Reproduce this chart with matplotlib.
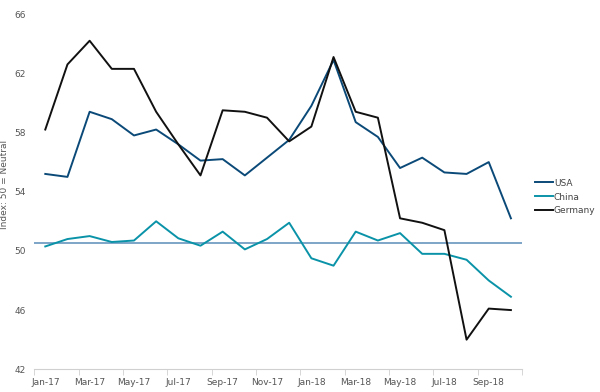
import matplotlib
matplotlib.use("Agg")
import matplotlib.pyplot as plt
import numpy as np

months = ["Jan-17", "Feb-17", "Mar-17", "Apr-17", "May-17", "Jun-17", "Jul-17",
          "Aug-17", "Sep-17", "Oct-17", "Nov-17", "Dec-17", "Jan-18", "Feb-18",
          "Mar-18", "Apr-18", "May-18", "Jun-18", "Jul-18", "Aug-18", "Sep-18",
          "Oct-18"]
usa = [55.2, 55.0, 59.4, 58.9, 57.8, 58.2, 57.2, 56.1, 56.2, 55.1, 56.3, 57.5,
       59.8, 62.9, 58.7, 57.7, 55.6, 56.3, 55.3, 55.2, 56.0, 52.2]
china = [50.3, 50.8, 51.0, 50.6, 50.7, 52.0, 50.85, 50.35, 51.3, 50.1, 50.8, 51.9,
         49.5, 49.0, 51.3, 50.7, 51.2, 49.8, 49.8, 49.4, 48.0, 46.9]
germany = [58.2, 62.6, 64.2, 62.3, 62.3, 59.4, 57.2, 55.1, 59.5, 59.4, 59.0, 57.4,
           58.4, 63.1, 59.4, 59.0, 52.2, 51.9, 51.4, 44.0, 46.1, 46.0]
neutral = 50.5
y_ticks = [42, 46, 50, 54, 58, 62, 66]

fig = plt.figure(figsize=(6, 3.92), dpi=100)
ax = fig.add_axes([0.057, 0.058, 0.813, 0.906])

x = np.arange(len(months))
ax.axhline(neutral, color="#5b8db8", lw=1.1, zorder=1)
ax.plot(x, usa, color="#0b4a78", lw=1.4, label="USA")
ax.plot(x, china, color="#0a93a8", lw=1.4, label="China")
ax.plot(x, germany, color="#111111", lw=1.4, label="Germany")

ax.set_xlim(-0.5, len(months) - 0.5)
ax.set_ylim(42, 66)
ax.set_yticks(y_ticks)
ax.set_xticks(x[::2])
ax.set_xticklabels(months[::2])
ax.set_xticks(np.arange(-0.5, len(months), 2), minor=True)
ax.tick_params(axis="x", which="major", length=0, labelsize=6.5,
               labelcolor="#555555", pad=6)
ax.tick_params(axis="x", which="minor", length=4, color="#d0d0d0")
ax.tick_params(axis="y", length=0, labelsize=6.5, labelcolor="#555555", pad=6)

for side in ["top", "right", "left"]:
    ax.spines[side].set_visible(False)
ax.spines["bottom"].set_color("#d0d0d0")

ax.set_ylabel("Index: 50 = Neutral", fontsize=6.5, color="#555555")
ax.yaxis.set_label_coords(-0.052, 0.52)

ax.legend(loc="center left", bbox_to_anchor=(1.01, 0.485), frameon=False,
          fontsize=6.5, labelcolor="#444444", handlelength=2.0,
          handletextpad=0.1, labelspacing=0.55)

fig.savefig("out.png", dpi=100)
